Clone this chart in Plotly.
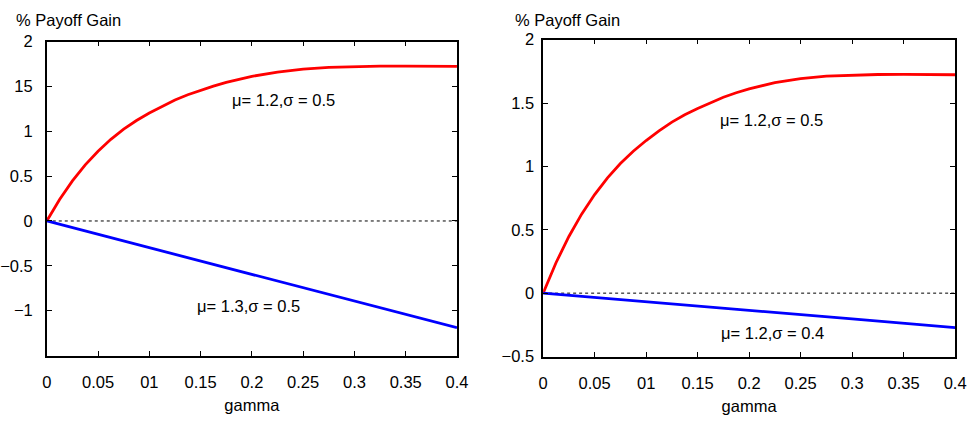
import plotly.graph_objects as go

# ---- data ----
gamma = [0, 0.0125, 0.025, 0.0375, 0.05, 0.0625, 0.075, 0.0875, 0.1, 0.1125, 0.125,
         0.1375, 0.15, 0.1625, 0.175, 0.1875, 0.2, 0.225, 0.25, 0.275, 0.3, 0.325,
         0.35, 0.375, 0.4]
gain_mu12_s05 = [0, 0.24, 0.447, 0.625, 0.778, 0.91, 1.023, 1.12, 1.204, 1.281, 1.349,
                 1.407, 1.457, 1.503, 1.545, 1.581, 1.612, 1.66, 1.692, 1.712, 1.721,
                 1.725, 1.726, 1.725, 1.723]
gamma_lin = [0, 0.1, 0.2, 0.3, 0.4]
gain_mu13_s05 = [0, -0.297, -0.594, -0.892, -1.19]
gain_mu12_s04 = [0, -0.066, -0.135, -0.203, -0.272]

x_tickvals = [0, 0.05, 0.1, 0.15, 0.2, 0.25, 0.3, 0.35, 0.4]
x_ticktext = ["0", "0.05", "01", "0.15", "0.2", "0.25", "0.3", "0.35", "0.4"]
yL_tickvals = [2, 1.5, 1, 0.5, 0, -0.5, -1]
yL_ticktext = ["2", "15", "1", "0.5", "0", "\u22120.5", "\u22121"]
yR_tickvals = [2, 1.5, 1, 0.5, 0, -0.5]
yR_ticktext = ["2", "1.5", "1", "0.5", "0", "\u22120.5"]

FONT = "Liberation Sans, Arial, Helvetica, sans-serif"
FS = 16.5
RED = "#ff0000"
BLUE = "#0000ff"

fig = go.Figure()

# left panel
fig.add_trace(go.Scatter(x=[0, 0.4], y=[0, 0], mode="lines",
                         line=dict(color="black", width=1, dash="3px,3px"),
                         xaxis="x", yaxis="y", hoverinfo="skip"))
fig.add_trace(go.Scatter(x=gamma, y=gain_mu12_s05, mode="lines",
                         line=dict(color=RED, width=2.8),
                         xaxis="x", yaxis="y"))
fig.add_trace(go.Scatter(x=gamma_lin, y=gain_mu13_s05, mode="lines",
                         line=dict(color=BLUE, width=2.8),
                         xaxis="x", yaxis="y"))

# right panel
fig.add_trace(go.Scatter(x=[0, 0.4], y=[0, 0], mode="lines",
                         line=dict(color="black", width=1, dash="3px,3px"),
                         xaxis="x2", yaxis="y2", hoverinfo="skip"))
fig.add_trace(go.Scatter(x=gamma, y=gain_mu12_s05, mode="lines",
                         line=dict(color=RED, width=2.8),
                         xaxis="x2", yaxis="y2"))
fig.add_trace(go.Scatter(x=gamma_lin, y=gain_mu12_s04, mode="lines",
                         line=dict(color=BLUE, width=2.8),
                         xaxis="x2", yaxis="y2"))

axis_common = dict(showline=True, linecolor="black", linewidth=1.5, mirror="allticks",
                   ticks="inside", ticklen=5, tickwidth=1, tickcolor="black",
                   showgrid=False, zeroline=False,
                   tickfont=dict(family=FONT, size=FS, color="black"))

title_font = dict(family=FONT, size=FS, color="black")

fig.update_layout(
    width=972, height=422,
    margin=dict(l=0, r=0, t=0, b=0),
    paper_bgcolor="white", plot_bgcolor="white",
    showlegend=False,
    font=dict(family=FONT, size=FS, color="black"),
    xaxis=dict(domain=[41.5 / 972, 459 / 972], range=[0, 0.4], anchor="y",
               tickvals=x_tickvals, ticktext=x_ticktext, ticklabelstandoff=11,
               title=dict(text="gamma", font=title_font, standoff=9),
               **axis_common),
    yaxis=dict(domain=[1 - 362 / 422, 1 - 34 / 422], range=[-1.5, 2], anchor="x",
               tickvals=yL_tickvals, ticktext=yL_ticktext, ticklabelstandoff=9,
               **axis_common),
    xaxis2=dict(domain=[546.7 / 972, 966 / 972], range=[0, 0.4], anchor="y2",
                tickvals=x_tickvals, ticktext=x_ticktext, ticklabelstandoff=11,
                title=dict(text="gamma", font=title_font, standoff=9),
                **axis_common),
    yaxis2=dict(domain=[1 - 363 / 422, 1 - 32 / 422], range=[-0.5, 2], anchor="x2",
                tickvals=yR_tickvals, ticktext=yR_ticktext, ticklabelstandoff=4,
                **axis_common),
    annotations=[
        dict(text="% Payoff Gain", xref="paper", yref="paper", x=8 / 972, y=1 - 12 / 422,
             xanchor="left", yanchor="middle", showarrow=False, font=title_font),
        dict(text="% Payoff Gain", xref="paper", yref="paper", x=516 / 972, y=1 - 11 / 422,
             xanchor="left", yanchor="middle", showarrow=False, font=title_font),
        dict(text="\u03bc= 1.2,\u03c3 = 0.5", xref="x", yref="y", x=0.231, y=1.35,
             showarrow=False, font=title_font),
        dict(text="\u03bc= 1.3,\u03c3 = 0.5", xref="x", yref="y", x=0.197, y=-0.95,
             showarrow=False, font=title_font),
        dict(text="\u03bc= 1.2,\u03c3 = 0.5", xref="x2", yref="y2", x=0.222, y=1.365,
             showarrow=False, font=title_font),
        dict(text="\u03bc= 1.2,\u03c3 = 0.4", xref="x2", yref="y2", x=0.223, y=-0.314,
             showarrow=False, font=title_font),
    ],
)

fig.write_html("out.html")
